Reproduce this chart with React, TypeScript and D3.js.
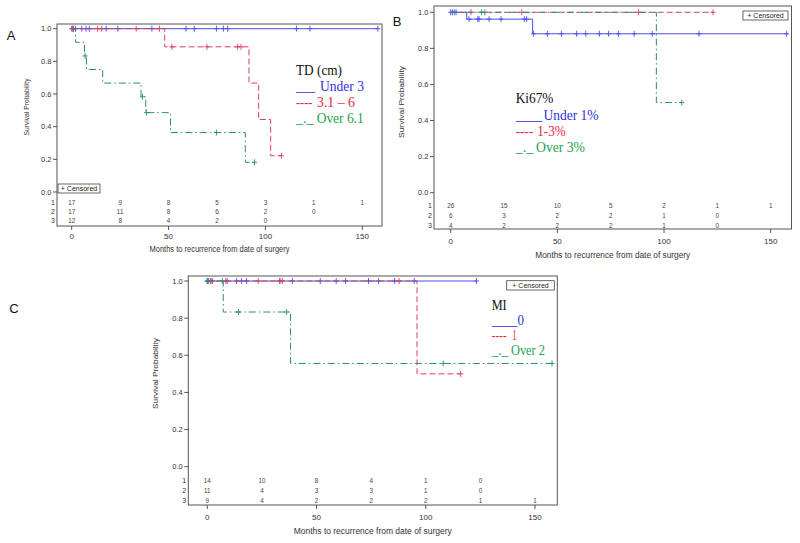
import React from 'react';
import * as d3 from 'd3';

// shared axes
const monthTicks = [0, 50, 100, 150];
const survTicks = [0, 0.2, 0.4, 0.6, 0.8, 1.0];
const riskMonths = [0, 25, 50, 75, 100, 125, 150];

// ---- A: TD (cm)
const aUnder3Time = [0];
const aUnder3Surv = [1];
const aUnder3End = 158;
const aUnder3Censor = [0.3, 0.8, 2, 5.2, 7.4, 9.1, 17.8, 23.8, 41.4, 59, 63.3, 74.7, 78.3, 80.5, 116, 123, 158];
const aMidTime = [0, 48, 91.5, 96.5, 102.7];
const aMidSurv = [1, 0.889, 0.667, 0.444, 0.222];
const aMidEnd = 108.5;
const aMidCensor = [0, 1, 13.4, 15.5, 33.3, 45.3, 51.7, 69.8, 85.7, 87.4, 108.3];
const aOverTime = [0, 2, 6.6, 7.6, 16, 35.8, 38.2, 51, 89.6];
const aOverSurv = [1, 0.917, 0.833, 0.75, 0.667, 0.583, 0.486, 0.364, 0.182];
const aOverEnd = 95.7;
const aOverCensor = [6.9, 36.5, 38.6, 74.7, 94.4];
const aRisk1 = [17, 9, 8, 5, 3, 1, 1];
const aRisk2 = [17, 11, 8, 6, 2, 0];
const aRisk3 = [12, 8, 4, 2, 0];

// ---- B: Ki67%
const bUnder1Time = [0, 7.5, 38.4];
const bUnder1Surv = [1, 0.962, 0.881];
const bUnder1End = 158;
const bUnder1Censor = [0, 0.8, 1.7, 2.5, 8.6, 12.7, 13.3, 18, 23.6, 34.5, 35.6, 38.8, 45.3, 51.9, 59, 63.3, 69.7, 74, 78.6, 86, 94.5, 116.4, 157.5];
const bMidTime = [0];
const bMidSurv = [1];
const bMidEnd = 123;
const bMidCensor = [9.5, 33.3, 88, 123];
const bOverTime = [0, 96.4];
const bOverSurv = [1, 0.5];
const bOverEnd = 108.5;
const bOverCensor = [14.5, 16, 108.3];
const bRisk1 = [26, 15, 10, 5, 2, 1, 1];
const bRisk2 = [6, 3, 2, 2, 1, 0];
const bRisk3 = [4, 2, 2, 2, 1, 0];

// ---- C: MI
const c0Time = [0];
const c0Surv = [1];
const c0End = 123.2;
const c0Censor = [0, 0.5, 1.7, 9.1, 13.4, 15.7, 18, 33.2, 38.9, 51.7, 59, 63.3, 73.8, 78.4, 85.8, 94.7, 123.2];
const c1Time = [0, 96];
const c1Surv = [1, 0.5];
const c1End = 116;
const c1Censor = [1.5, 2.4, 8.5, 23.3, 33.2, 34.3, 87.8, 116];
const c2Time = [0, 7.3, 38.1];
const c2Surv = [1, 0.833, 0.556];
const c2End = 158;
const c2Censor = [0, 6.9, 14.3, 36.3, 108, 157.8];
const cRisk1 = [14, 10, 8, 4, 1, 0];
const cRisk2 = [11, 4, 3, 3, 1, 0];
const cRisk3 = [9, 4, 2, 2, 2, 1, 1];

const BLUE = '#4d4df0';
const RED = '#dc3f5c';
const GREEN = '#2e8a70';
const dashes = ['', '6,3', '7,3,1.5,3'];
const legendColors = ['#2f2fe0', '#e8283c', '#22a052'];
const lineColors = [BLUE, RED, GREEN];
const SANS = 'Liberation Sans, Arial, sans-serif';
const SERIF = 'Liberation Serif, Times New Roman, serif';

const panels = [
  {
    letter: 'A', letterX: 11, letterY: 35,
    box: [57, 24, 382, 226], xr: [71.7, 362.3], yr: [192, 28.7],
    series: [
      [aUnder3Time, aUnder3Surv, aUnder3End, aUnder3Censor],
      [aMidTime, aMidSurv, aMidEnd, aMidCensor],
      [aOverTime, aOverSurv, aOverEnd, aOverCensor],
    ],
    risk: [aRisk1, aRisk2, aRisk3], riskY: [202.7, 211.7, 220.3],
    tickY: 236, titleY: 249, titleW: 140, yTitleX: 26, yTitleY: 107, yTitleW: 57,
    censBox: [58, 184, 100, 193],
    legend: {
      title: 'TD (cm)', x: 296, titleY: 70, titleW: 46, ys: [86, 102, 118],
      prefixes: ['___', '----', '_._'], prefixW: [19, 16.5, 17.5],
      labels: ['Under 3', '3.1 – 6', 'Over 6.1'], labelX: [320, 317, 316.7], labelW: [44, 38, 47],
    },
  },
  {
    letter: 'B', letterX: 397, letterY: 21,
    box: [434, 6, 791.5, 229], xr: [450.7, 770.7], yr: [192.7, 12.3],
    series: [
      [bUnder1Time, bUnder1Surv, bUnder1End, bUnder1Censor],
      [bMidTime, bMidSurv, bMidEnd, bMidCensor],
      [bOverTime, bOverSurv, bOverEnd, bOverCensor],
    ],
    risk: [bRisk1, bRisk2, bRisk3], riskY: [205.7, 215.7, 225],
    tickY: 241, titleY: 255, titleW: 155, yTitleX: 401, yTitleY: 102, yTitleW: 72,
    censBox: [743, 11, 788, 20],
    legend: {
      title: 'Ki67%', x: 515.7, titleY: 98.3, titleW: 37.7, ys: [115, 131, 147.3],
      prefixes: ['____', '----', '_._'], prefixW: [26.5, 17.6, 17.6],
      labels: ['Under 1%', '1-3%', 'Over 3%'], labelX: [543.5, 537.3, 536], labelW: [55, 28.4, 49],
    },
  },
  {
    letter: 'C', letterX: 14, letterY: 308,
    box: [188.3, 276, 557.3, 505], xr: [207.3, 535], yr: [466.7, 281],
    series: [
      [c0Time, c0Surv, c0End, c0Censor],
      [c1Time, c1Surv, c1End, c1Censor],
      [c2Time, c2Surv, c2End, c2Censor],
    ],
    risk: [cRisk1, cRisk2, cRisk3], riskY: [480, 490.3, 500],
    tickY: 517, titleY: 531, titleW: 158, yTitleX: 155, yTitleY: 373.5, yTitleW: 71,
    censBox: [506.7, 280.7, 554.3, 290],
    legend: {
      title: 'MI', x: 491.7, titleY: 305, titleW: 15, ys: [320, 335, 350.3],
      // first item typed as one run: underline directly followed by "0"
      prefixes: ['', '----', '_._'], prefixW: [0, 15, 16.6],
      labels: ['____0', '1', 'Over 2'], labelX: [491.7, 512.3, 511], labelW: [32.3, 4.4, 34],
    },
  },
];

function survAt(times: number[], surv: number[], t: number) {
  let v = surv[0];
  for (let i = 0; i < times.length; i++) if (times[i] <= t) v = surv[i];
  return v;
}

function Panel({ p }: { p: any }) {
  const x = d3.scaleLinear().domain([0, 150]).range(p.xr);
  const y = d3.scaleLinear().domain([0, 1]).range(p.yr);
  const line = d3.line<[number, number]>().x(d => x(d[0])).y(d => y(d[1])).curve(d3.curveStepAfter);
  const [l, t, r, b] = p.box;
  const lg = p.legend;

  return (
    <g>
      <text x={p.letterX} y={p.letterY} fontFamily={SANS} fontSize={13} textAnchor="middle" dominantBaseline="central" fill="#111">{p.letter}</text>
      <rect x={l} y={t} width={r - l} height={b - t} fill="none" stroke="#555" strokeWidth={1} />
      {survTicks.map(v => (
        <g key={v}>
          <line x1={l - 4} x2={l} y1={y(v)} y2={y(v)} stroke="#555" />
          <text x={l - 5.5} y={y(v)} fontFamily={SANS} fontSize={7.5} textAnchor="end" dominantBaseline="central" fill="#333">{d3.format('.1f')(v)}</text>
        </g>
      ))}
      {monthTicks.map(v => (
        <g key={v}>
          <line x1={x(v)} x2={x(v)} y1={b} y2={b + 4} stroke="#555" />
          <text x={x(v)} y={p.tickY} fontFamily={SANS} fontSize={8} textAnchor="middle" dominantBaseline="central" fill="#333">{v}</text>
        </g>
      ))}
      <text x={(l + r) / 2} y={p.titleY} fontFamily={SANS} fontSize={8.5} textAnchor="middle" dominantBaseline="central" fill="#333"
        textLength={p.titleW} lengthAdjust="spacingAndGlyphs">Months to recurrence from date of surgery</text>
      <text transform={`translate(${p.yTitleX},${p.yTitleY}) rotate(-90)`} fontFamily={SANS} fontSize={8} textAnchor="middle" dominantBaseline="central" fill="#333"
        textLength={p.yTitleW} lengthAdjust="spacingAndGlyphs">Survival Probability</text>
      {p.risk.map((row: number[], i: number) => (
        <g key={i}>
          <text x={l - 4} y={p.riskY[i]} fontFamily={SANS} fontSize={7} textAnchor="middle" dominantBaseline="central" fill="#333">{i + 1}</text>
          {row.map((n, j) => (
            <text key={j} x={x(riskMonths[j])} y={p.riskY[i]} fontFamily={SANS} fontSize={6.3} textAnchor="middle" dominantBaseline="central" fill="#444">{n}</text>
          ))}
        </g>
      ))}
      <rect x={p.censBox[0]} y={p.censBox[1]} width={p.censBox[2] - p.censBox[0]} height={p.censBox[3] - p.censBox[1]} fill="#fff" stroke="#444" strokeWidth={0.8} />
      <text x={(p.censBox[0] + p.censBox[2]) / 2} y={(p.censBox[1] + p.censBox[3]) / 2} fontFamily={SANS} fontSize={7} textAnchor="middle" dominantBaseline="central" fill="#222">+ Censored</text>
      {p.series.map((s: any, i: number) => {
        const [times, surv, end, cens] = s;
        const pts: [number, number][] = times.map((tt: number, k: number) => [tt, surv[k]]);
        pts.push([end, surv[surv.length - 1]]);
        return (
          <g key={i}>
            <path d={line(pts) || ''} fill="none" stroke={lineColors[i]} strokeWidth={1} strokeDasharray={dashes[i] || undefined} />
            {cens.map((c: number, k: number) => {
              const cx = x(c), cy = y(survAt(times, surv, c));
              return (
                <g key={k} stroke={lineColors[i]} strokeWidth={0.9}>
                  <line x1={cx} x2={cx} y1={cy - 3} y2={cy + 3} />
                  <line x1={cx - 2.5} x2={cx + 2.5} y1={cy} y2={cy} />
                </g>
              );
            })}
          </g>
        );
      })}
      <text x={lg.x} y={lg.titleY} fontFamily={SERIF} fontSize={15} dominantBaseline="central" fill="#111"
        textLength={lg.titleW} lengthAdjust="spacingAndGlyphs">{lg.title}</text>
      {lg.labels.map((lab: string, i: number) => (
        <g key={i} fill={legendColors[i]} fontFamily={SERIF} fontSize={15}>
          {lg.prefixes[i] && (
            <text x={lg.x} y={lg.ys[i]} dominantBaseline="central" textLength={lg.prefixW[i]} lengthAdjust="spacingAndGlyphs">{lg.prefixes[i]}</text>
          )}
          <text x={lg.labelX[i]} y={lg.ys[i]} dominantBaseline="central" textLength={lg.labelW[i]} lengthAdjust="spacingAndGlyphs">{lab}</text>
        </g>
      ))}
    </g>
  );
}

export default function App() {
  return (
    <svg width={800} height={543} style={{ position: 'absolute', left: 0, top: 0, background: '#fff' }}>
      <rect width={800} height={543} fill="#fff" />
      {panels.map(p => <Panel key={p.letter} p={p} />)}
    </svg>
  );
}
